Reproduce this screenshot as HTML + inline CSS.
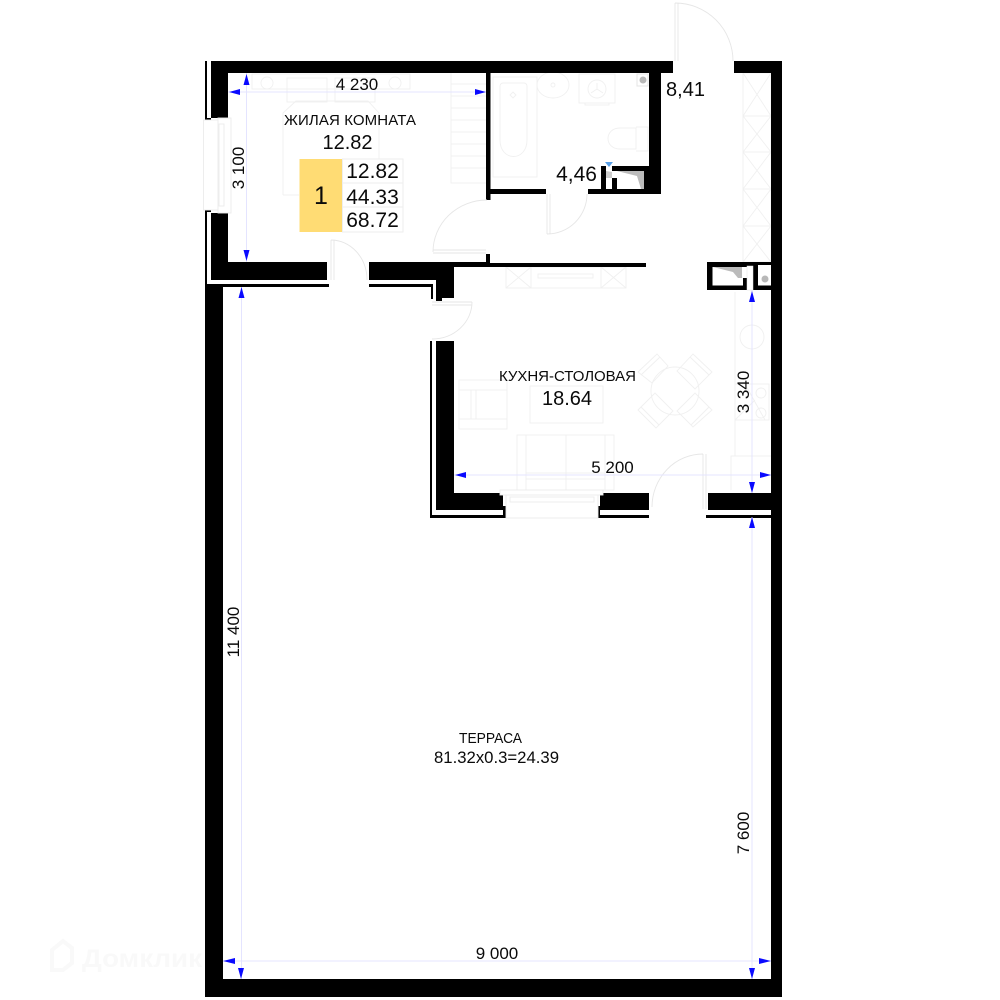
<!DOCTYPE html>
<html><head><meta charset="utf-8"><style>
html,body{margin:0;padding:0;background:#fff}
svg{display:block}
text{font-family:"Liberation Sans",sans-serif;fill:#0a0a0a}
.f{fill:none;stroke:#f0f0f0;stroke-width:.9}
.d{fill:none;stroke:#e6e6e6;stroke-width:.9}
.l{stroke:#e4e4ff;stroke-width:1;fill:none}
.a{fill:#0a0aff}
</style></head><body>
<svg width="1000" height="1000" viewBox="0 0 1000 1000" xmlns="http://www.w3.org/2000/svg">
<rect width="1000" height="1000" fill="#fff"/>
<!-- watermark -->
<path d="M52 950l11-9 9 7v15l-9 7h-11z" fill="none" stroke="#f9f9f9" stroke-width="4"/>
<text x="82" y="967" font-size="25" font-weight="700" style="fill:#f9f9f9" textLength="120" lengthAdjust="spacingAndGlyphs">Домклик</text>
<!-- furniture -->
<g class="f">
<!-- bedroom -->
<rect x="252" y="74" width="158" height="15"/><circle cx="267" cy="83" r="6"/><circle cx="395" cy="83" r="6"/>
<rect x="287" y="78" width="40" height="24"/><rect x="335" y="78" width="40" height="24"/>
<path d="M283 195V113l13-12h72l11 12V159M283 195H299"/>
<path d="M451 73v110h35M451 84h35M451 96h35M451 108h35M451 120h35M451 132h35M451 144h35M451 156h35M451 168h35"/>
<!-- bath -->
<rect x="493" y="77" width="44" height="100"/><path d="M503 83h21a3 3 0 0 1 3 3v54c0 22-27 22-27 0V86a3 3 0 0 1 3-3z"/>
<path d="M513 92l3 3-3 3-3-3z"/>
<ellipse cx="553" cy="85" rx="16" ry="13"/><circle cx="553" cy="85" r="2"/>
<rect x="579" y="74" width="36" height="29"/><circle cx="597" cy="89" r="9"/><path d="M597 89v-6M597 89l-6 4M597 89l6 4M585 103v2h24v-2"/>
<path d="M636 128h-16c-16 0-16 21 0 21h16zM636 127h12v24h-12"/>
<!-- hall wardrobe -->
<rect x="743" y="73" width="28" height="189"/>
<path d="M743 116h28M743 152h28M743 189h28M743 226h28M743 73l28 43M771 73l-28 43M743 116l28 36M771 116l-28 36M743 152l28 37M771 152l-28 37M743 189l28 37M771 189l-28 37M743 226l28 36M771 226l-28 36"/>
<!-- tv -->
<rect x="506" y="267" width="120" height="21"/><path d="M531 267v21M601 267v21M506 267l25 21M531 267l-25 21M601 267l25 21M626 267l-25 21"/><rect x="538" y="274" width="55" height="4"/>
<!-- kitchen -->
<path d="M735 292v164M771 456h-40v34"/><circle cx="752" cy="337" r="12"/>
<rect x="735" y="384" width="34" height="36"/><circle cx="761" cy="393" r="5"/><circle cx="761" cy="413" r="5"/><path d="M735 420l20-20M745 384l20 36"/>
<circle cx="675" cy="391" r="24"/>
<path d="M638 372l19-18 11 12-16 17zM677 371l16-17 19 18-17 17zM638 410l17-17 18 18-17 17zM677 411l18-18 17 17-19 17z"/>
<path d="M641 375l19-18M709 375l-19-18M641 407l18 18M709 407l-18 18"/>
<rect x="459" y="380" width="48" height="49"/><rect x="459" y="390" width="48" height="29"/><path d="M471 390v29M476 390v29"/>
<rect x="530" y="386" width="73" height="37"/>
<rect x="517" y="435" width="97" height="55"/><rect x="526" y="435" width="79" height="55"/><path d="M566 435v55M526 473h79M526 479h79"/>
</g>
<!-- sink symbols -->
<rect x="637" y="74" width="11" height="12" fill="none" stroke="#e4e4e4"/><circle cx="643" cy="80" r="3.5" fill="#b8b8b8"/>
<!-- walls -->
<g fill="#000">
<!-- outer terrace -->
<rect x="205" y="284" width="18" height="713"/>
<rect x="205" y="979" width="577" height="18"/>
<rect x="771" y="61" width="11" height="936"/>
<rect x="205" y="284" width="124" height="3"/>
<!-- top -->
<rect x="211" y="61" width="462" height="12"/>
<rect x="734" y="61" width="48" height="12"/>
<!-- upper-left -->
<rect x="211" y="61" width="17" height="57"/>
<rect x="205" y="61" width="2" height="59"/>
<rect x="205" y="118" width="6" height="2"/>
<!-- lower-left -->
<rect x="211" y="213" width="17" height="67"/>
<rect x="205" y="210" width="2" height="76"/>
<rect x="205" y="210" width="6" height="2"/>
<rect x="211" y="262" width="116" height="18"/>
<!-- right of door -->
<path d="M369 262H486V263H646V267H454V298H442V301H436V280H369Z"/>
<rect x="369" y="284" width="64" height="3"/>
<rect x="431" y="284" width="2" height="15"/>
<rect x="486" y="254" width="4" height="10"/>
<!-- bathroom -->
<rect x="486" y="73" width="4.500" height="127"/>
<rect x="486" y="189" width="60" height="5"/>
<rect x="588" y="189" width="73" height="5"/>
<rect x="649" y="73" width="12" height="121"/>
<rect x="601" y="166" width="5" height="28"/>
<rect x="612" y="178" width="5" height="16"/>
<rect x="612" y="166" width="37" height="5"/>
<rect x="644" y="166" width="17" height="28"/>
<!-- kitchen left wall -->
<rect x="436" y="341" width="18" height="169"/>
<rect x="430" y="341" width="2" height="177"/>
<rect x="430" y="515" width="76" height="3"/>
<rect x="436" y="493" width="67" height="17"/>
<rect x="503" y="506" width="3" height="12"/>
<rect x="600" y="493" width="49" height="17"/>
<rect x="597" y="506" width="3" height="12"/>
<rect x="597" y="515" width="52" height="3"/>
<rect x="708" y="493" width="63" height="17"/>
<rect x="706" y="515" width="65" height="3"/>
<!-- right closet -->
<rect x="707" y="262" width="64" height="28"/>
</g>
<!-- closets interior -->
<path d="M712.500 267H747V278H743V285.500H712.500Z" fill="#fff"/>
<path d="M713 267L742 267V278H738L733 272Z" fill="#bbb"/>
<rect x="747" y="266" width="6" height="24" fill="#fff" stroke="#e4e4e4" stroke-width=".5"/>
<rect x="758" y="265" width="13" height="20.500" fill="#fff"/>
<circle cx="765" cy="279" r="3.500" fill="#b8b8b8"/>
<path d="M617 171H644V189H617Z" fill="#fff"/>
<path d="M617 171L644 171V189L641 189L637 176Z" fill="#bbb"/>
<rect x="606" y="170" width="6" height="19" fill="#fff"/>
<path d="M606 171L612 172V178H606Z" fill="#ccc"/>
<path d="M605 162h8l-4 5z" fill="#5aa0e8"/>
<!-- windows -->
<g fill="#fff" stroke="#ececec" stroke-width=".9">
<rect x="203.500" y="120" width="26" height="90"/>
<rect x="218" y="118" width="13" height="95"/>
<rect x="219" y="124" width="5" height="82"/>
<rect x="500" y="490" width="103" height="5"/>
<rect x="506" y="495" width="92" height="23"/>
<rect x="510" y="497" width="84" height="5"/>
</g>
<!-- doors -->
<g class="d">
<path d="M675 3V61M678 3V61M675 3A58 58 0 0 1 733 61"/>
<path d="M547 194V234M550 194V234M547 234A40 40 0 0 0 587 194"/>
<path d="M487 200A54 52 0 0 0 433 252M433 250H486M433 253H486"/>
<path d="M331 240V280M334 240V280M331 240A36 40 0 0 1 367 280"/>
<path d="M432 302H472M432 305H472M472 302A40 37 0 0 1 432 339"/>
<path d="M703 454V509M706 454V509M703 454A51 53 0 0 0 652 507"/>
</g>
<!-- dimension lines -->
<g class="l">
<path d="M228 92H486M246.500 73V262M241.500 287V979M223 961H771M752 517V979M752 290V493M454 475H771"/>
</g>
<g class="a">
<path d="M229 92l11-3v6zM486 92l-11-3v6zM246.500 74l-3 11h6zM246.500 261l-3-11h6z"/>
<path d="M241.500 287l-3 11h6zM223 961l12-3v6zM241 979l-3-11h6zM771 961l-12-3v6zM752 979l-3-11h6z"/>
<path d="M752 517l-3 11h6zM752 291l-3 11h6zM752 493l-3-11h6zM455 475l11-3v6zM771 475l-11-3v6z"/>
</g>
<!-- info table -->
<rect x="299.500" y="159" width="43" height="73" fill="#ffdc74"/>
<g fill="#fff" stroke="#eee" stroke-width="1">
<rect x="342.500" y="159" width="60.500" height="24"/>
<rect x="342.500" y="183" width="60.500" height="24"/>
<rect x="342.500" y="207" width="60.500" height="25"/>
</g>
<!-- labels -->
<text x="357" y="90" font-size="17" text-anchor="middle">4 230</text>
<text x="350" y="125" font-size="15" text-anchor="middle" textLength="132">ЖИЛАЯ КОМНАТА</text>
<text x="347.500" y="149" font-size="20" text-anchor="middle">12.82</text>
<text x="321" y="204" font-size="25" text-anchor="middle">1</text>
<text x="372.500" y="178" font-size="21" text-anchor="middle">12.82</text>
<text x="372.500" y="204" font-size="21" text-anchor="middle">44.33</text>
<text x="372.500" y="227" font-size="21" text-anchor="middle">68.72</text>
<text x="576.500" y="181" font-size="21" text-anchor="middle">4,46</text>
<text x="685.500" y="96" font-size="20" text-anchor="middle">8,41</text>
<text x="567.500" y="381" font-size="15" text-anchor="middle" textLength="137">КУХНЯ-СТОЛОВАЯ</text>
<text x="567" y="405" font-size="20" text-anchor="middle">18.64</text>
<text x="612.500" y="473" font-size="17" text-anchor="middle">5 200</text>
<text x="490.500" y="743" font-size="15" text-anchor="middle" textLength="63" lengthAdjust="spacingAndGlyphs">ТЕРРАСА</text>
<text x="496.500" y="763" font-size="16.500" text-anchor="middle" textLength="125" lengthAdjust="spacingAndGlyphs">81.32x0.3=24.39</text>
<text x="497" y="959" font-size="17" text-anchor="middle">9 000</text>
<text transform="translate(244 168) rotate(-90)" font-size="17" text-anchor="middle">3 100</text>
<text transform="translate(239 632) rotate(-90)" font-size="17" text-anchor="middle">11 400</text>
<text transform="translate(749 833) rotate(-90)" font-size="17" text-anchor="middle">7 600</text>
<text transform="translate(749 392) rotate(-90)" font-size="17" text-anchor="middle">3 340</text>
</svg>
</body></html>
